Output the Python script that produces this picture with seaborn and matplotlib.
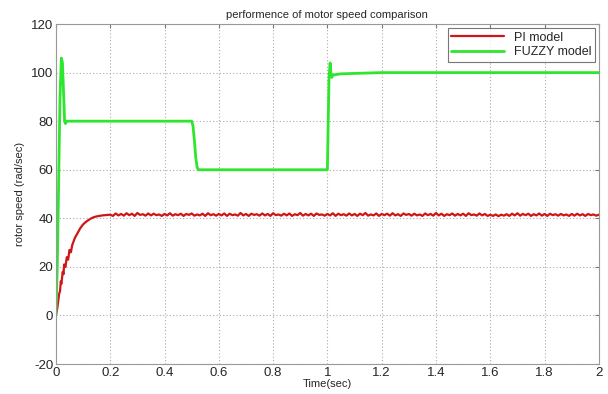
import matplotlib
matplotlib.use("Agg")
import matplotlib.pyplot as plt
import seaborn as sns
import numpy as np
import pandas as pd

# ---- data ----
pi_time_early = [0.0, 0.005, 0.012, 0.015, 0.018, 0.02, 0.025, 0.028, 0.03, 0.035,
                 0.04, 0.045, 0.05, 0.055, 0.06, 0.07, 0.08, 0.09, 0.10, 0.11,
                 0.12, 0.13, 0.14, 0.15, 0.16, 0.17, 0.18, 0.19]
pi_speed_early = [0.0, 3.0, 9.0, 10.0, 14.0, 13.0, 18.0, 17.0, 21.0, 20.0,
                  24.0, 23.0, 27.0, 26.0, 29.0, 32.0, 34.0, 36.0, 37.5, 38.5,
                  39.3, 40.0, 40.5, 40.8, 41.0, 41.2, 41.3, 41.4]
pi_speed_steady = [
    41.5, 41.0, 42.0, 41.2, 41.8, 41.1, 42.1, 41.3, 41.9, 41.0,
    42.2, 41.4, 41.7, 41.1, 42.0, 41.2, 41.9, 41.3, 41.6, 41.0,
    41.8, 41.2, 42.1, 41.1, 41.7, 41.3, 41.9, 41.0, 41.8, 41.4,
    42.0, 41.1, 41.6, 41.2, 41.9, 41.0, 42.1, 41.3, 41.7, 41.1,
    41.8, 41.2, 42.0, 41.0, 41.9, 41.3, 41.6, 41.1, 42.2, 41.2,
    41.8, 41.0, 41.9, 41.4, 41.7, 41.1, 42.0, 41.2, 41.8, 41.0,
    42.1, 41.3, 41.6, 41.1, 41.9, 41.2, 42.0, 41.0, 41.7, 41.3,
    42.2, 41.1, 41.8, 41.2, 41.9, 41.0, 42.0, 41.4, 41.6, 41.1,
    41.8, 41.2, 42.1, 41.0, 41.9, 41.3, 41.7, 41.1, 42.0, 41.2,
    41.8, 41.0, 41.9, 41.3, 42.2, 41.1, 41.6, 41.2, 42.0, 41.0,
    41.8, 41.3, 41.9, 41.1, 42.1, 41.2, 41.7, 41.0, 42.0, 41.4,
    41.8, 41.1, 41.9, 41.2, 41.6, 41.0, 42.0, 41.3, 41.8, 41.1,
    42.2, 41.2, 41.9, 41.0, 41.7, 41.3, 42.0, 41.1, 41.8, 41.2,
    41.9, 41.0, 42.1, 41.3, 41.6, 41.1, 42.0, 41.2, 41.8, 41.0,
    41.5, 41.0, 41.6, 40.9, 41.5, 41.1, 41.7, 41.0, 41.9, 41.2,
    42.1, 41.1, 41.8, 41.3, 41.9, 41.0, 41.7, 41.2, 42.0, 41.1,
    41.8, 41.0, 41.9, 41.3, 41.7, 41.1, 41.8, 41.2, 41.6, 41.0,
    41.8, 41.1, 41.9, 41.2, 41.7, 41.0, 41.8, 41.3, 41.6, 41.1,
    41.5,
]
pi_time_steady = [round(0.2 + 0.01 * i, 2) for i in range(len(pi_speed_steady))]

fuzzy_time = [0.0, 0.005, 0.01, 0.015, 0.02, 0.024, 0.028, 0.032, 0.035, 0.04,
              0.5, 0.505, 0.51, 0.515, 0.52, 0.525, 1.0, 1.003, 1.006, 1.01,
              1.013, 1.016, 1.02, 1.05, 1.2, 2.0]
fuzzy_speed = [0.0, 20.0, 55.0, 90.0, 106.0, 104.0, 92.0, 80.0, 79.0, 80.0,
               80.0, 78.0, 72.0, 65.0, 61.0, 60.0, 60.0, 80.0, 98.0, 104.0,
               100.0, 98.0, 99.0, 99.5, 100.0, 100.0]

x_ticks = [0, 0.2, 0.4, 0.6, 0.8, 1, 1.2, 1.4, 1.6, 1.8, 2]
x_tick_labels = ["0", "0.2", "0.4", "0.6", "0.8", "1", "1.2", "1.4", "1.6", "1.8", "2"]
y_ticks = [-20, 0, 20, 40, 60, 80, 100, 120]

pi_time = pi_time_early + pi_time_steady
pi_speed = pi_speed_early + pi_speed_steady

sns.set_style("white")
plt.rcParams['font.family'] = ['Liberation Sans', 'DejaVu Sans']
plt.rcParams['axes.unicode_minus'] = False

fig = plt.figure(figsize=(6.08, 3.94), dpi=100)
ax = fig.add_axes([0.092, 0.076, 0.893, 0.863])

sns.lineplot(x=pi_time, y=pi_speed, ax=ax, color="#d01515", linewidth=1.6,
             sort=False, estimator=None, label="PI model")
sns.lineplot(x=fuzzy_time, y=fuzzy_speed, ax=ax, color="#2ee62e", linewidth=2.0,
             sort=False, estimator=None, label="FUZZY model")

ax.set_xlim(0, 2)
ax.set_ylim(-20, 120)
ax.set_xticks(x_ticks)
ax.set_xticklabels(x_tick_labels)
ax.set_yticks(y_ticks)
ax.tick_params(axis='both', labelsize=9.5, direction='in', length=3, pad=2,
               top=True, right=True, color='#777777')
ax.grid(True, linestyle=(0, (1, 2)), color='#aaaaaa', linewidth=0.8)
for s in ax.spines.values():
    s.set_color('#999999')
    s.set_linewidth(0.8)

ax.set_title("performence of motor speed comparison", fontsize=8, pad=4)
ax.set_xlabel("Time(sec)", fontsize=8, labelpad=0)
ax.set_ylabel("rotor speed (rad/sec)", fontsize=8, labelpad=4)

leg = ax.legend(loc="upper right", fontsize=9, frameon=True, fancybox=False,
                borderpad=0.3, handlelength=4.2, labelspacing=0.2,
                borderaxespad=0.3)
leg.get_frame().set_edgecolor('#555555')
leg.get_frame().set_linewidth(0.8)

fig.savefig("out.png", dpi=100)
